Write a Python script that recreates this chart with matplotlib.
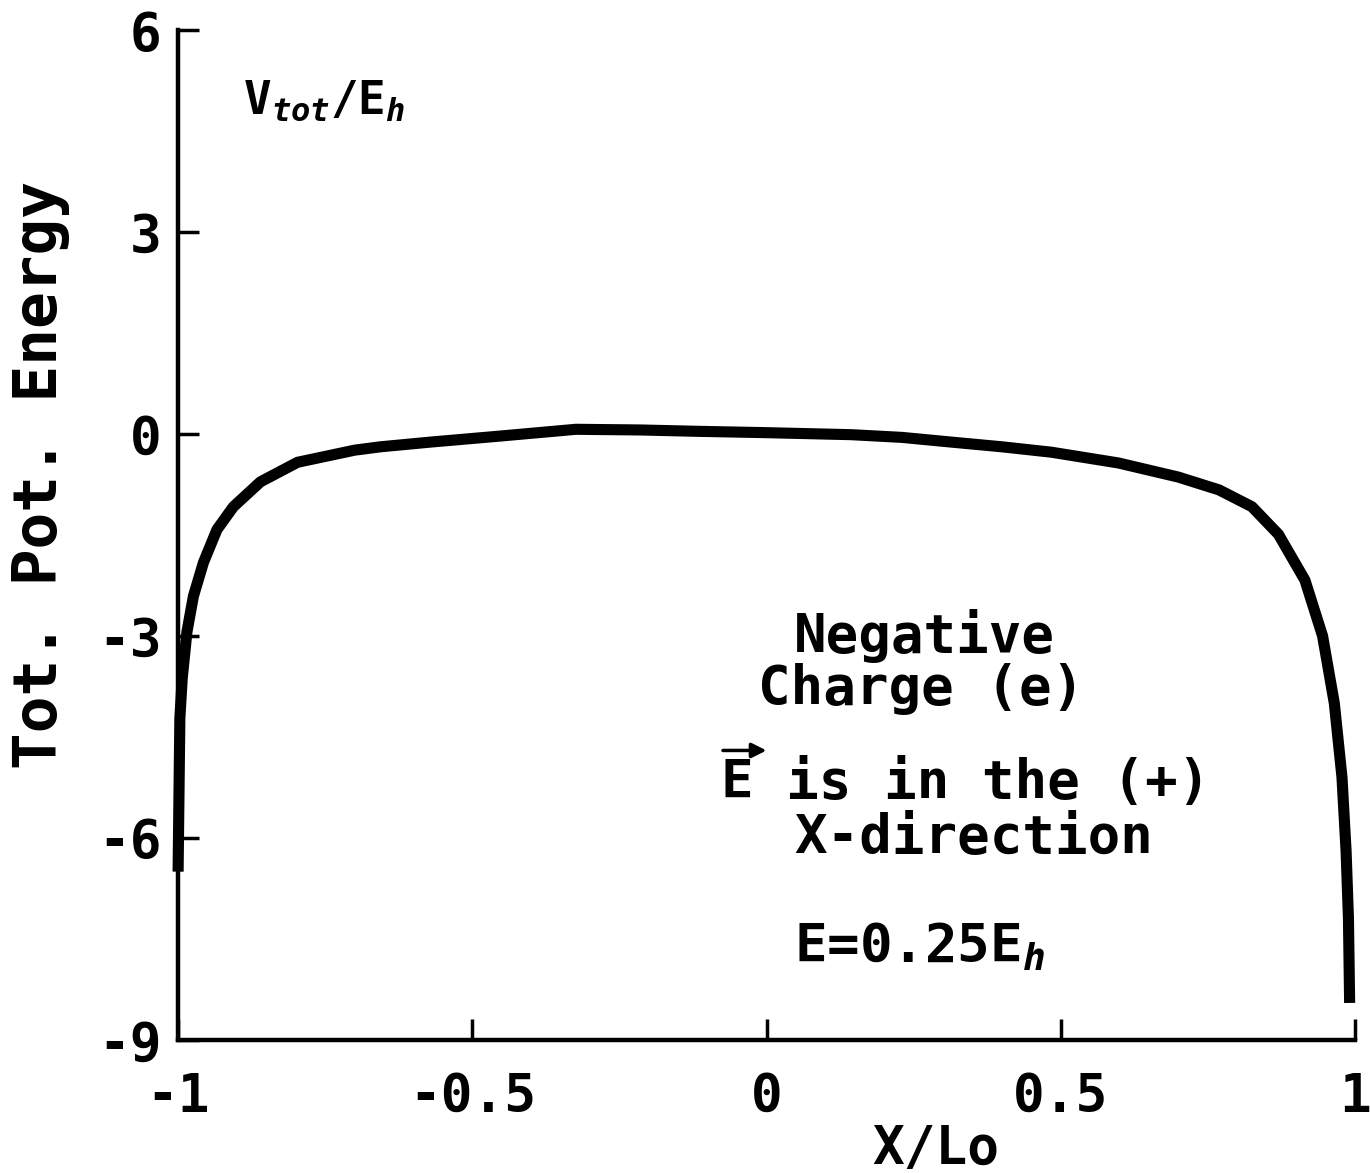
import matplotlib
matplotlib.use("Agg")
import matplotlib.pyplot as plt

# total potential energy across the well, E = 0.25 Eh
x_pos = [-1.000, -0.998, -0.997, -0.993, -0.985, -0.974, -0.957, -0.934, -0.906,
         -0.860, -0.797, -0.700, -0.656, -0.571, -0.452, -0.324, -0.214, -0.117,
         0.000, 0.144, 0.230, 0.314, 0.400, 0.484, 0.598, 0.700, 0.769, 0.825,
         0.870, 0.915, 0.945, 0.965, 0.978, 0.985, 0.989, 0.991]
v_tot = [-6.50, -4.96, -4.22, -3.63, -2.94, -2.41, -1.91, -1.42, -1.08,
         -0.71, -0.42, -0.24, -0.19, -0.12, -0.03, 0.07, 0.06, 0.04,
         0.02, -0.01, -0.05, -0.12, -0.19, -0.27, -0.43, -0.64, -0.83, -1.08,
         -1.49, -2.17, -3.00, -4.00, -5.10, -6.20, -7.20, -8.45]

xticks = [-1, -0.5, 0, 0.5, 1]
xtick_labels = ["-1", "-0.5", "0", "0.5", "1"]
yticks = [-9, -6, -3, 0, 3, 6]
ytick_labels = ["-9", "-6", "-3", "0", "3", "6"]

plt.rcParams['font.family'] = ['DejaVu Sans Mono']
plt.rcParams['font.weight'] = 'bold'
plt.rcParams['mathtext.fontset'] = 'custom'
plt.rcParams['mathtext.rm'] = 'DejaVu Sans Mono:bold'
plt.rcParams['mathtext.it'] = 'DejaVu Sans Mono:italic:bold'
plt.rcParams['mathtext.bf'] = 'DejaVu Sans Mono:bold'

fig = plt.figure(figsize=(13.7, 11.73), dpi=100)
ax = fig.add_axes([0.130, 0.1134, 0.859, 0.861])

ax.plot(x_pos, v_tot, color='black', lw=8, solid_joinstyle='round',
        solid_capstyle='butt', clip_on=False)

ax.set_xlim(-1, 1)
ax.set_ylim(-9, 6)
ax.set_xticks(xticks)
ax.set_xticklabels(xtick_labels)
ax.set_yticks(yticks)
ax.set_yticklabels(ytick_labels)

for side in ['top', 'right']:
    ax.spines[side].set_visible(False)
for side in ['left', 'bottom']:
    ax.spines[side].set_linewidth(3.2)

ax.tick_params(axis='both', direction='in', length=15, width=2.5, labelsize=38)
ax.tick_params(axis='x', pad=22)
ax.tick_params(axis='y', pad=12)

# axis labels
ax.text(0.644, -0.108, "X/Lo", transform=ax.transAxes, ha='center', va='center',
        fontsize=38)
ax.text(-0.117, 0.559, "Tot. Pot. Energy", transform=ax.transAxes, rotation=90,
        ha='center', va='center', fontsize=44)

ax.text(-0.889, 4.95, r"V$_{tot}$/E$_h$", ha='left', va='center', fontsize=33)

# annotation block
ax.text(0.047, -3.0, "Negative", ha='left', va='center', fontsize=39)
ax.text(-0.014, -3.78, "Charge (e)", ha='left', va='center', fontsize=39)
ax.text(-0.077, -5.18, "E is in the (+)", ha='left', va='center', fontsize=39)
ax.annotate("", xy=(0.000, -4.70), xytext=(-0.074, -4.70),
            arrowprops=dict(arrowstyle='-|>', color='black', lw=2.5,
                            mutation_scale=22, shrinkA=0, shrinkB=0))
ax.text(0.047, -6.0, "X-direction", ha='left', va='center', fontsize=39)
ax.text(0.047, -7.62, r"E=0.25E$_h$", ha='left', va='center', fontsize=39)

fig.savefig("out.png", dpi=100)
